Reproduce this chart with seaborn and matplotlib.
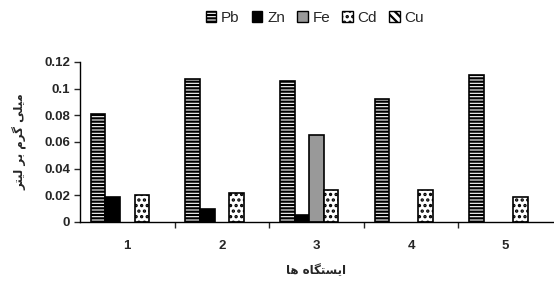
import numpy as np
import pandas as pd
import seaborn as sns
import matplotlib.pyplot as plt
from matplotlib.patches import Patch
from matplotlib.ticker import FixedLocator

stations = ["1", "2", "3", "4", "5"]
metals = ["Pb", "Zn", "Fe", "Cd", "Cu"]
pb = [0.081, 0.107, 0.106, 0.092, 0.110]
zn = [0.019, 0.010, 0.005, 0.0, 0.0]
fe = [0.0, 0.0, 0.065, 0.0, 0.0]
cd = [0.020, 0.022, 0.024, 0.024, 0.019]
cu = [0.0, 0.0, 0.0, 0.0, 0.0]

# shaped Persian text (visual order), since matplotlib does no Arabic shaping
xlabel = "\uFE8E\uFEEB \uFEE9\uFE8E\uFB95\uFE98\uFEB4\uFBFE\uFE8D"          # ایستگاه ها
ylabel = "\uFEAE\uFE98\uFBFF\uFEDF \uFEAE\uFE91 \uFEE1\uFEAE\uFB94 \uFBFD\uFEE0\uFBFF\uFEE3"  # میلی گرم بر لیتر

df = pd.DataFrame({"station": stations * 5,
                   "metal": np.repeat(metals, 5),
                   "value": pb + zn + fe + cd + cu})

sns.set_style("white")
plt.rcParams["font.family"] = ["Liberation Sans", "DejaVu Sans"]
plt.rcParams["hatch.linewidth"] = 1.6

colors = {"Pb": "white", "Zn": "black", "Fe": "#999999", "Cd": "white", "Cu": "white"}
hatches = {"Pb": "-----", "Zn": "", "Fe": "", "Cd": "...", "Cu": "\\\\\\\\"}

fig = plt.figure(figsize=(5.54, 2.82), dpi=100)
ax = fig.add_axes([80 / 554, 1 - 222 / 282, 473 / 554, 160 / 282])
sns.barplot(data=df, x="station", y="value", hue="metal", hue_order=metals,
            palette=colors, width=0.77, edgecolor="black", linewidth=1.2,
            legend=False, ax=ax)

for cont, m in zip(ax.containers, metals):
    for p in cont:
        p.set_hatch(hatches[m])
        if p.get_height() == 0:
            p.set_linewidth(0)

ax.set_ylim(0, 0.12)
ax.set_xlim(-0.5, 4.5)
ax.set_yticks([0, 0.02, 0.04, 0.06, 0.08, 0.1, 0.12])
ax.set_yticklabels(["0", "0.02", "0.04", "0.06", "0.08", "0.1", "0.12"])
ax.xaxis.set_minor_locator(FixedLocator([0.5, 1.5, 2.5, 3.5]))
ax.tick_params(axis="x", which="major", length=0, pad=13)
ax.tick_params(axis="x", which="minor", length=4, width=1, direction="out", bottom=True)
ax.tick_params(axis="y", length=4, width=1, direction="out", left=True, pad=3)
for lab in ax.get_xticklabels() + ax.get_yticklabels():
    lab.set_fontweight("bold")
    lab.set_fontsize(9.5)

sns.despine(ax=ax)
for s in ["left", "bottom"]:
    ax.spines[s].set_color("black")
    ax.spines[s].set_linewidth(1)

ax.set_xlabel(xlabel, fontsize=8.5, fontweight="bold", family=["DejaVu Sans"], labelpad=9)
ax.set_ylabel(ylabel, fontsize=8.5, fontweight="bold", family=["DejaVu Sans"], labelpad=12)

handles = [Patch(facecolor=colors[m], edgecolor="black", hatch=hatches[m], linewidth=1.0, label=m)
           for m in metals]
fig.legend(handles=handles, loc="center", bbox_to_anchor=(315 / 554, 1 - 18 / 282), ncol=5,
           frameon=False, fontsize=11, handlelength=0.7, handleheight=0.7,
           handletextpad=0.3, columnspacing=0.8)

fig.savefig("out.png", dpi=100)
